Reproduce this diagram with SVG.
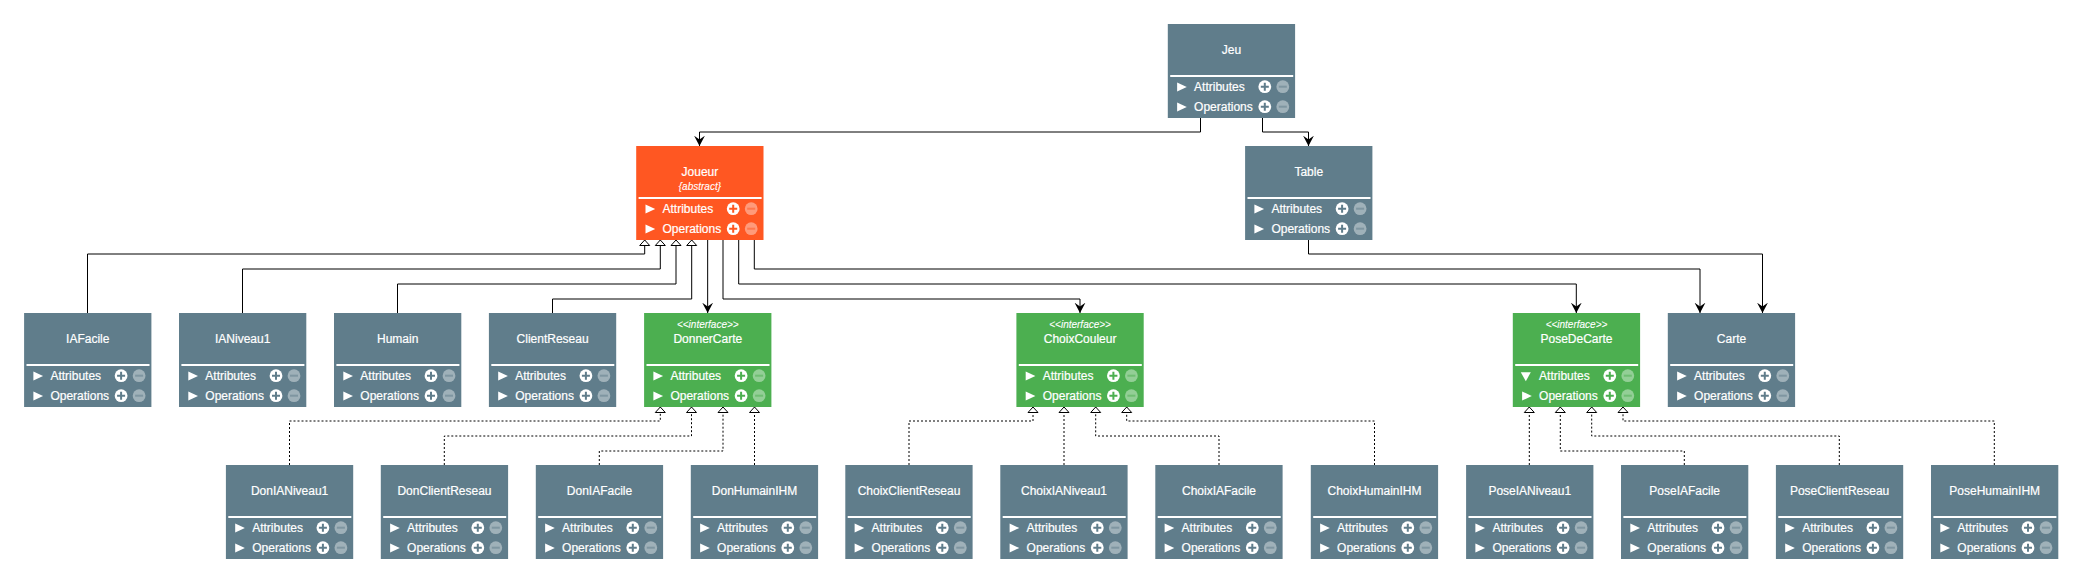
<svg xmlns="http://www.w3.org/2000/svg" width="2081" height="583" viewBox="0 0 2081 583">
<style>
text{font-family:"Liberation Sans",Arial,sans-serif;fill:#fff;font-size:12px;stroke:#fff;stroke-width:.2px}
.c{text-anchor:middle}
.s{font-size:10px;font-style:italic;text-anchor:middle;stroke-width:.1px}
.slate{color:#607D8B}.orange{color:#FF5722}.green{color:#4CAF50}
.box{fill:currentColor}
.link{fill:none;stroke:#000;stroke-width:1}
.assoc{marker-end:url(#open)}
.gen{marker-end:url(#tri)}
.real{marker-end:url(#tri);stroke-dasharray:2 2}
</style>
<defs>
<marker id="open" markerUnits="userSpaceOnUse" markerWidth="12" markerHeight="12" refX="10.5" refY="6" orient="auto"><polygon points="10.5,6 0.2,0.6 4,6 0.2,11.4" fill="#000"/></marker>
<marker id="tri" markerUnits="userSpaceOnUse" markerWidth="12" markerHeight="12" refX="6.5" refY="6" orient="auto"><polygon points="6.5,6 1,1 1,11" fill="#fff" stroke="#000" stroke-width="1"/></marker>
<g id="ctl">
<rect x="2.4" y="51" width="123" height="2" fill="#fff"/>
<g id="btn1"><circle cx="97" cy="62.7" r="6.4" fill="#fff"/><path d="M93 62.7h8M97 58.7v8" stroke="currentColor" stroke-width="2" fill="none"/><circle cx="115" cy="62.7" r="6.4" fill="#fff" opacity=".4"/><path d="M111 62.7h8" stroke="currentColor" stroke-width="2" opacity=".5"/></g>
<use href="#btn1" y="20"/>
</g>
<polygon id="t1" points="9.3,58.4 19,63 9.3,67.6" fill="#fff"/>
<polygon id="t2" points="9.3,78.4 19,83 9.3,87.6" fill="#fff"/>
<polygon id="t1d" points="8,59.3 18,59.3 13,68.3" fill="#fff"/>
</defs>
<g id="connectors">
<path class="link assoc" d="M1200.5 118V132H699.5V146"/>
<path class="link assoc" d="M1262.5 118V132H1308.5V146"/>
<path class="link assoc" d="M1308.5 240V254H1762.5V313"/>
<path class="link assoc" d="M754.3 240V269H1700V313"/>
<path class="link assoc" d="M738.7 240V284H1576.3V313"/>
<path class="link assoc" d="M723 240V299H1080V313"/>
<path class="link assoc" d="M707.67 240V313"/>
<path class="link gen" d="M87.5 313V254H644.7V240"/>
<path class="link gen" d="M242.5 313V269H660.3V240"/>
<path class="link gen" d="M397.5 313V284H676V240"/>
<path class="link gen" d="M552.5 313V299H691.7V240"/>
<path class="link real" d="M289.5 465V421H660.3V407"/>
<path class="link real" d="M444.3 465V436H691.5V407"/>
<path class="link real" d="M599.3 465V451H723V407"/>
<path class="link real" d="M754.5 465V407"/>
<path class="link real" d="M909 465V421H1033V407"/>
<path class="link real" d="M1064 465V407"/>
<path class="link real" d="M1219 465V436H1095.7V407"/>
<path class="link real" d="M1374.5 465V421H1126.7V407"/>
<path class="link real" d="M1529.3 465V407"/>
<path class="link real" d="M1684.3 465V451H1560.3V407"/>
<path class="link real" d="M1839.3 465V436H1591.7V407"/>
<path class="link real" d="M1994.3 465V421H1623V407"/>
</g>
<g id="Jeu" class="slate" transform="translate(1167.8,24)"><rect class="box" width="127.3" height="94"/><text class="c" x="63.7" y="29.7">Jeu</text><use href="#ctl"/><use href="#t1"/><use href="#t2"/><text x="26.3" y="66.7">Attributes</text><text x="26.3" y="86.7">Operations</text></g>
<g id="Joueur" class="orange" transform="translate(636.2,146)"><rect class="box" width="127.3" height="94"/><text class="c" x="63.7" y="29.7">Joueur</text><text class="s" x="63.7" y="44">{abstract}</text><use href="#ctl"/><use href="#t1"/><use href="#t2"/><text x="26.3" y="66.7">Attributes</text><text x="26.3" y="86.7">Operations</text></g>
<g id="Table" class="slate" transform="translate(1245.1,146)"><rect class="box" width="127.3" height="94"/><text class="c" x="63.7" y="29.7">Table</text><use href="#ctl"/><use href="#t1"/><use href="#t2"/><text x="26.3" y="66.7">Attributes</text><text x="26.3" y="86.7">Operations</text></g>
<g id="IAFacile" class="slate" transform="translate(24.1,313)"><rect class="box" width="127.3" height="94"/><text class="c" x="63.7" y="29.7">IAFacile</text><use href="#ctl"/><use href="#t1"/><use href="#t2"/><text x="26.3" y="66.7">Attributes</text><text x="26.3" y="86.7">Operations</text></g>
<g id="IANiveau1" class="slate" transform="translate(179,313)"><rect class="box" width="127.3" height="94"/><text class="c" x="63.7" y="29.7">IANiveau1</text><use href="#ctl"/><use href="#t1"/><use href="#t2"/><text x="26.3" y="66.7">Attributes</text><text x="26.3" y="86.7">Operations</text></g>
<g id="Humain" class="slate" transform="translate(334,313)"><rect class="box" width="127.3" height="94"/><text class="c" x="63.7" y="29.7">Humain</text><use href="#ctl"/><use href="#t1"/><use href="#t2"/><text x="26.3" y="66.7">Attributes</text><text x="26.3" y="86.7">Operations</text></g>
<g id="ClientReseau" class="slate" transform="translate(488.9,313)"><rect class="box" width="127.3" height="94"/><text class="c" x="63.7" y="29.7">ClientReseau</text><use href="#ctl"/><use href="#t1"/><use href="#t2"/><text x="26.3" y="66.7">Attributes</text><text x="26.3" y="86.7">Operations</text></g>
<g id="DonnerCarte" class="green" transform="translate(644.1,313)"><rect class="box" width="127.3" height="94"/><text class="s" x="63.7" y="14.7">&lt;&lt;interface&gt;&gt;</text><text class="c" x="63.7" y="29.7">DonnerCarte</text><use href="#ctl"/><use href="#t1"/><use href="#t2"/><text x="26.3" y="66.7">Attributes</text><text x="26.3" y="86.7">Operations</text></g>
<g id="ChoixCouleur" class="green" transform="translate(1016.4,313)"><rect class="box" width="127.3" height="94"/><text class="s" x="63.7" y="14.7">&lt;&lt;interface&gt;&gt;</text><text class="c" x="63.7" y="29.7">ChoixCouleur</text><use href="#ctl"/><use href="#t1"/><use href="#t2"/><text x="26.3" y="66.7">Attributes</text><text x="26.3" y="86.7">Operations</text></g>
<g id="PoseDeCarte" class="green" transform="translate(1512.8,313)"><rect class="box" width="127.3" height="94"/><text class="s" x="63.7" y="14.7">&lt;&lt;interface&gt;&gt;</text><text class="c" x="63.7" y="29.7">PoseDeCarte</text><use href="#ctl"/><use href="#t1d"/><use href="#t2"/><text x="26.3" y="66.7">Attributes</text><text x="26.3" y="86.7">Operations</text></g>
<g id="Carte" class="slate" transform="translate(1667.8,313)"><rect class="box" width="127.3" height="94"/><text class="c" x="63.7" y="29.7">Carte</text><use href="#ctl"/><use href="#t1"/><use href="#t2"/><text x="26.3" y="66.7">Attributes</text><text x="26.3" y="86.7">Operations</text></g>
<g id="DonIANiveau1" class="slate" transform="translate(225.9,465)"><rect class="box" width="127.3" height="94"/><text class="c" x="63.7" y="29.7">DonIANiveau1</text><use href="#ctl"/><use href="#t1"/><use href="#t2"/><text x="26.3" y="66.7">Attributes</text><text x="26.3" y="86.7">Operations</text></g>
<g id="DonClientReseau" class="slate" transform="translate(380.8,465)"><rect class="box" width="127.3" height="94"/><text class="c" x="63.7" y="29.7">DonClientReseau</text><use href="#ctl"/><use href="#t1"/><use href="#t2"/><text x="26.3" y="66.7">Attributes</text><text x="26.3" y="86.7">Operations</text></g>
<g id="DonIAFacile" class="slate" transform="translate(535.8,465)"><rect class="box" width="127.3" height="94"/><text class="c" x="63.7" y="29.7">DonIAFacile</text><use href="#ctl"/><use href="#t1"/><use href="#t2"/><text x="26.3" y="66.7">Attributes</text><text x="26.3" y="86.7">Operations</text></g>
<g id="DonHumainIHM" class="slate" transform="translate(690.8,465)"><rect class="box" width="127.3" height="94"/><text class="c" x="63.7" y="29.7">DonHumainIHM</text><use href="#ctl"/><use href="#t1"/><use href="#t2"/><text x="26.3" y="66.7">Attributes</text><text x="26.3" y="86.7">Operations</text></g>
<g id="ChoixClientReseau" class="slate" transform="translate(845.3,465)"><rect class="box" width="127.3" height="94"/><text class="c" x="63.7" y="29.7">ChoixClientReseau</text><use href="#ctl"/><use href="#t1"/><use href="#t2"/><text x="26.3" y="66.7">Attributes</text><text x="26.3" y="86.7">Operations</text></g>
<g id="ChoixIANiveau1" class="slate" transform="translate(1000.3,465)"><rect class="box" width="127.3" height="94"/><text class="c" x="63.7" y="29.7">ChoixIANiveau1</text><use href="#ctl"/><use href="#t1"/><use href="#t2"/><text x="26.3" y="66.7">Attributes</text><text x="26.3" y="86.7">Operations</text></g>
<g id="ChoixIAFacile" class="slate" transform="translate(1155.3,465)"><rect class="box" width="127.3" height="94"/><text class="c" x="63.7" y="29.7">ChoixIAFacile</text><use href="#ctl"/><use href="#t1"/><use href="#t2"/><text x="26.3" y="66.7">Attributes</text><text x="26.3" y="86.7">Operations</text></g>
<g id="ChoixHumainIHM" class="slate" transform="translate(1310.8,465)"><rect class="box" width="127.3" height="94"/><text class="c" x="63.7" y="29.7">ChoixHumainIHM</text><use href="#ctl"/><use href="#t1"/><use href="#t2"/><text x="26.3" y="66.7">Attributes</text><text x="26.3" y="86.7">Operations</text></g>
<g id="PoseIANiveau1" class="slate" transform="translate(1466.1,465)"><rect class="box" width="127.3" height="94"/><text class="c" x="63.7" y="29.7">PoseIANiveau1</text><use href="#ctl"/><use href="#t1"/><use href="#t2"/><text x="26.3" y="66.7">Attributes</text><text x="26.3" y="86.7">Operations</text></g>
<g id="PoseIAFacile" class="slate" transform="translate(1621,465)"><rect class="box" width="127.3" height="94"/><text class="c" x="63.7" y="29.7">PoseIAFacile</text><use href="#ctl"/><use href="#t1"/><use href="#t2"/><text x="26.3" y="66.7">Attributes</text><text x="26.3" y="86.7">Operations</text></g>
<g id="PoseClientReseau" class="slate" transform="translate(1775.9,465)"><rect class="box" width="127.3" height="94"/><text class="c" x="63.7" y="29.7">PoseClientReseau</text><use href="#ctl"/><use href="#t1"/><use href="#t2"/><text x="26.3" y="66.7">Attributes</text><text x="26.3" y="86.7">Operations</text></g>
<g id="PoseHumainIHM" class="slate" transform="translate(1931,465)"><rect class="box" width="127.3" height="94"/><text class="c" x="63.7" y="29.7">PoseHumainIHM</text><use href="#ctl"/><use href="#t1"/><use href="#t2"/><text x="26.3" y="66.7">Attributes</text><text x="26.3" y="86.7">Operations</text></g>
</svg>
